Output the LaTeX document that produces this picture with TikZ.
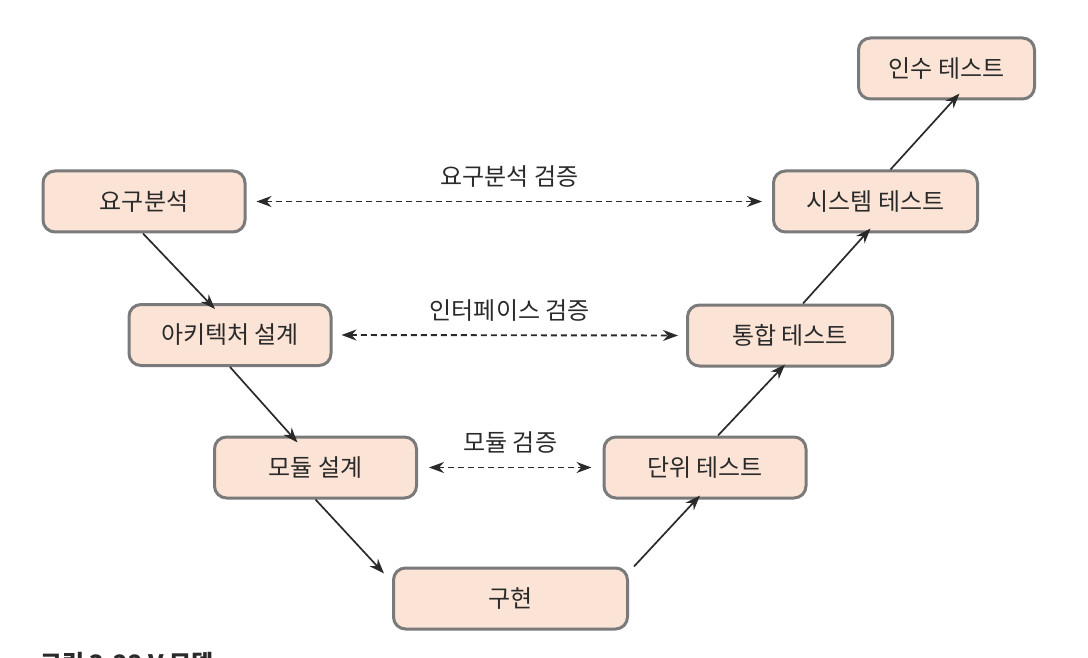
\documentclass[tikz,border=0pt]{standalone}
\usepackage{fontspec}
\setmainfont{Noto Sans CJK KR}
\usetikzlibrary{arrows.meta}
\definecolor{boxfill}{HTML}{FBE4D6}
\definecolor{boxline}{HTML}{7A7A7A}
\definecolor{txt}{HTML}{2A2A2A}
\begin{document}
\begin{tikzpicture}[x=1pt,y=-1pt,
  stagebox/.style={draw=boxline, line width=3pt, fill=boxfill, rounded corners=12pt,
    minimum width=202pt, minimum height=61pt, inner sep=0pt, text=txt,
    font=\fontsize{24}{28}\selectfont},
  flow/.style={-{Stealth[length=15pt,width=11pt]}, line width=1.7pt, draw=txt},
  verify/.style={{Stealth[length=15pt,width=11pt]}-{Stealth[length=15pt,width=11pt]}, line width=1.9pt, draw=txt, dash pattern=on 6pt off 4pt},
  vlabel/.style={text=txt, inner sep=0pt, font=\fontsize{24}{28}\selectfont}]
\useasboundingbox (0,0) rectangle (1088,658);
\node[stagebox] (req) at (144,201.5) {요구분석};
\node[stagebox] (arch) at (230,335) {아키텍처 설계};
\node[stagebox] (mod) at (315.5,467.5) {모듈 설계};
\node[stagebox, minimum width=234pt] (impl) at (510.5,598.5) {구현};
\node[stagebox] (unit) at (705,467.5) {단위 테스트};
\node[stagebox, minimum width=205pt] (integ) at (790,335.5) {통합 테스트};
\node[stagebox, minimum width=204pt] (sys) at (875.5,201.5) {시스템 테스트};
\node[stagebox, minimum width=176pt] (acc) at (946.5,68.5) {인수 테스트};
% flow arrows
\draw[flow] ([xshift=-1pt]req.south) -- ([xshift=-15pt,yshift=-6pt]arch.north);
\draw[flow] (arch.south) -- ([xshift=-18pt,yshift=-7pt]mod.north);
\draw[flow] (mod.south) -- ([xshift=-8pt,yshift=-7pt]impl.north west);
\draw[flow] ([xshift=5pt]impl.north east) -- ([xshift=-5pt,yshift=4pt]unit.south);
\draw[flow] ([xshift=13pt]unit.north) -- ([xshift=-5pt,yshift=3pt]integ.south);
\draw[flow] ([xshift=13pt]integ.north) -- ([xshift=-5pt,yshift=5pt]sys.south);
\draw[flow] ([xshift=15pt]sys.north) -- ([xshift=13pt,yshift=7pt]acc.south);
% verification arrows
\draw[verify] ([xshift=10pt]req.east) -- node[vlabel, above=13pt] (l1) {요구분석 검증} ([xshift=-10pt]sys.west);
\draw[verify] ([xshift=9pt]arch.east) -- node[vlabel, above=13pt] (l2) {인터페이스 검증} ([xshift=-8pt]integ.west);
\draw[verify] ([xshift=11pt]mod.east) -- node[vlabel, above=13pt] (l3) {모듈 검증} ([xshift=-11pt]unit.west);
% caption (cut off by the page edge, as in the reference)
\node[anchor=north west, inner sep=0pt, text=txt, font=\bfseries\fontsize{24}{28}\selectfont] (cap) at (40,652) {그림 3-22 V 모델};
\end{tikzpicture}
\end{document}
